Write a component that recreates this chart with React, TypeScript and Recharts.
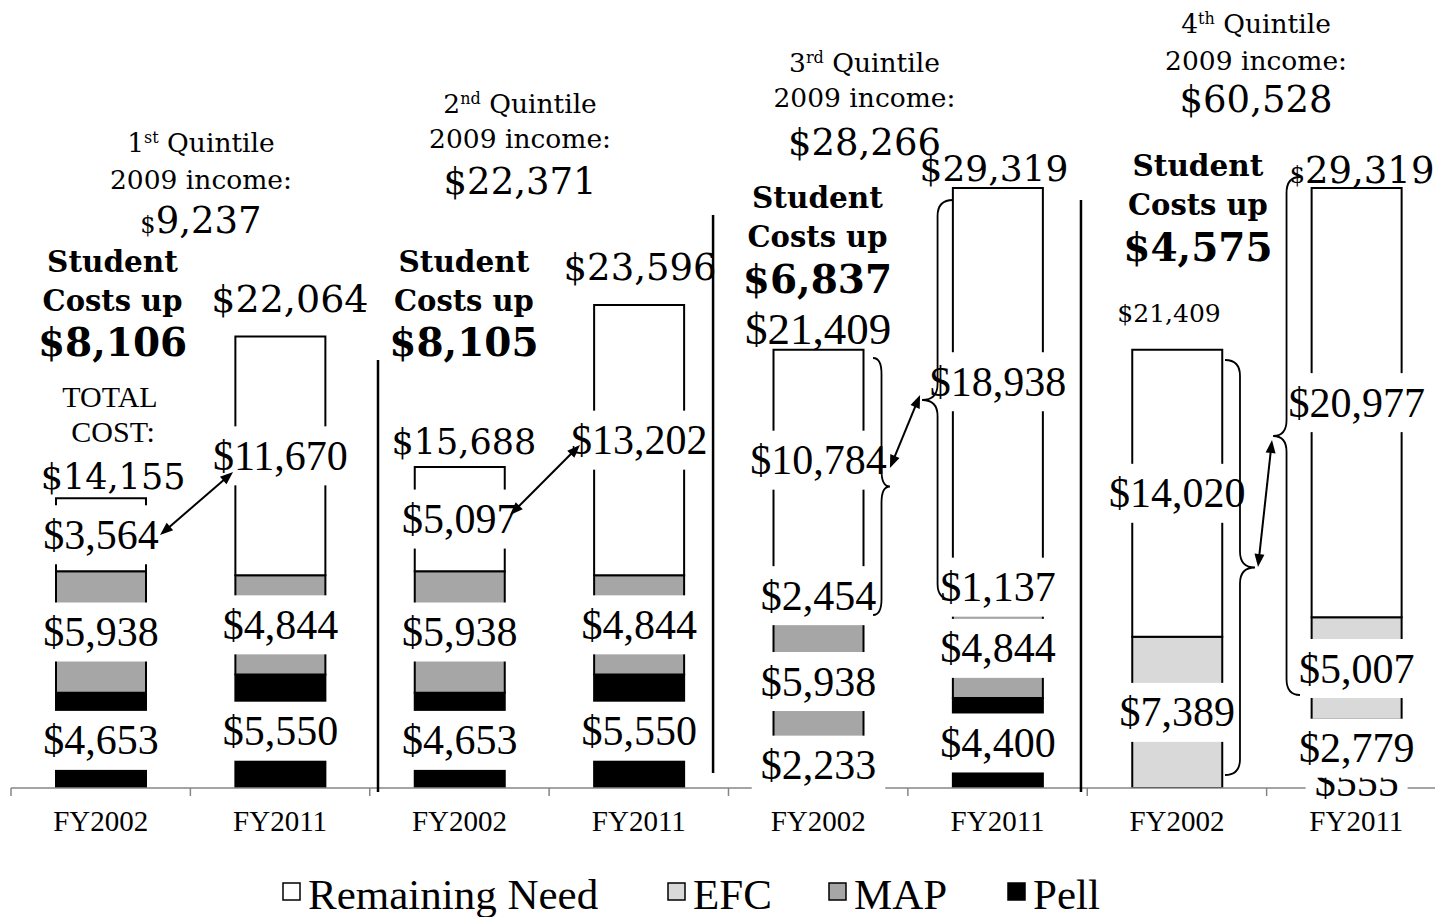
import React from 'react';
import { BarChart, Bar, XAxis, YAxis, LabelList, Legend, ReferenceDot, ReferenceLine } from 'recharts';

// ---------- data ----------
const CATEGORIES = ['FY2002', 'FY2011', 'FY2002', 'FY2011', 'FY2002', 'FY2011', 'FY2002', 'FY2011'];
const GROUP_KEYS = ['q1-2002', 'q1-2011', 'q2-2002', 'q2-2011', 'q3-2002', 'q3-2011', 'q4-2002', 'q4-2011'];
const PELL = [4653, 5550, 4653, 5550, 2233, 4400, 0, 555];
const MAP = [5938, 4844, 5938, 4844, 5938, 4844, 0, 2779];
const EFC = [0, 0, 0, 0, 2454, 1137, 7389, 5007];
const REMAINING = [3564, 11670, 5097, 13202, 10784, 18938, 14020, 20977];

const QUINTILE_ORD = ['1', '2', '3', '4'];
const QUINTILE_SUP = ['st', 'nd', 'rd', 'th'];
const QUINTILE_INCOME = ['9,237', '22,371', '28,266', '60,528'];
const COST_INCREASE = ['$8,106', '$8,105', '$6,837', '$4,575'];

const SERIES = [
  { key: 'pell', name: 'Pell', color: '#000000' },
  { key: 'map', name: 'MAP', color: '#a6a6a6' },
  { key: 'efc', name: 'EFC', color: '#d9d9d9' },
  { key: 'remaining', name: 'Remaining Need', color: '#ffffff' },
];

// pos = slot centre on the numeric helper axis used for annotations
const data = GROUP_KEYS.map((k, i) => ({
  key: k,
  pos: i + 0.5,
  pell: PELL[i],
  map: MAP[i],
  efc: EFC[i],
  remaining: REMAINING[i],
}));

// ---------- layout ----------
const CHART_W = 1450;
const CHART_H = 917;
const MARGIN = { top: 174, right: 4, bottom: 0, left: 11 };
const X_AXIS_H = 129;
const BAND = (CHART_W - MARGIN.left - MARGIN.right) / CATEGORIES.length;
const Y_MAX = 30000;
const AXIS_COLOR = '#868686';

const SERIF = "'Liberation Serif', 'Times New Roman', serif";
const SCHOOL = "'DejaVu Serif', serif";

// annotation anchors (x in slot units on a numeric helper axis, y in dollars)
const TITLE_POS = [
  { x: 1.059, ys: [31564, 29756, 27801] },
  { x: 2.838, ys: [33469, 31759, 29707] },
  { x: 4.758, ys: [35472, 33762, 31612] },
  { x: 6.941, ys: [37378, 35570, 33713] },
];
const COSTUP_POS = [
  { x: 0.566, ys: [25749, 23844, 21792] },
  { x: 2.525, ys: [25749, 23844, 21792] },
  { x: 4.496, ys: [28876, 26971, 24870] },
  { x: 6.617, ys: [30440, 28534, 26433] },
];

type Part = { t: string; s: number; dy?: number };
type Note = { x: number; y: number; parts: Part[]; font: 'tr' | 'dv'; bold?: boolean };

const OTHER_NOTES: Note[] = [
  { x: 1.555, y: 23941, parts: [{ t: '$22,064', s: 38 }], font: 'dv' },
  { x: 0.552, y: 19104, parts: [{ t: 'TOTAL', s: 30 }], font: 'tr' },
  { x: 0.569, y: 17394, parts: [{ t: 'COST:', s: 30 }], font: 'tr' },
  { x: 0.569, y: 15244, parts: [{ t: '$14,155', s: 35 }], font: 'dv' },
  { x: 2.525, y: 16954, parts: [{ t: '$15,688', s: 35 }], font: 'dv' },
  { x: 3.507, y: 25505, parts: [{ t: '$23,596', s: 37 }], font: 'dv' },
  { x: 4.499, y: 22427, parts: [{ t: '$21,409', s: 45 }], font: 'tr' },
  { x: 5.48, y: 30293, parts: [{ t: '$29,319', s: 36 }], font: 'dv' },
  { x: 6.456, y: 23209, parts: [{ t: '$21,409', s: 25 }], font: 'dv' },
  { x: 7.532, y: 30244, parts: [{ t: '$', s: 24 }, { t: '29,319', s: 37 }], font: 'dv' },
];

const SEPARATORS = [
  { x: 2.046, y1: 20912, y2: -195 },
  { x: 3.914, y1: 27997, y2: 733 },
  { x: 5.965, y1: 28730, y2: -195 },
];

const ARROWS = [
  { x1: 0.831, y1: 12362, x2: 1.238, y2: 15440 },
  { x1: 2.782, y1: 13339, x2: 3.172, y2: 16759 },
  { x1: 4.9, y1: 15635, x2: 5.068, y2: 19202 },
  { x1: 6.952, y1: 10798, x2: 7.03, y2: 17003 },
];

const BRACES = [
  { xEnd: 4.806, xTip: 4.9, yTop: 21010, yBot: 8453 },
  { xEnd: 5.252, xTip: 5.079, yTop: 28730, yBot: 9186 },
  { xEnd: 6.768, xTip: 6.935, yTop: 20912, yBot: 635 },
  { xEnd: 7.186, xTip: 7.036, yTop: 29853, yBot: 4544 },
];

const buildNotes = (): Note[] => {
  const notes: Note[] = [];
  TITLE_POS.forEach((p, i) => {
    notes.push({
      x: p.x,
      y: p.ys[0],
      font: 'dv',
      parts: [
        { t: QUINTILE_ORD[i], s: 26.5 },
        { t: QUINTILE_SUP[i], s: 16, dy: -9 },
        { t: ' Quintile', s: 26.5, dy: 9 },
      ],
    });
    notes.push({ x: p.x, y: p.ys[1], font: 'dv', parts: [{ t: '2009 income:', s: 26.5 }] });
    notes.push({
      x: p.x,
      y: p.ys[2],
      font: 'dv',
      parts: i === 0 ? [{ t: '$', s: 24 }, { t: QUINTILE_INCOME[i], s: 37 }] : [{ t: '$' + QUINTILE_INCOME[i], s: 37 }],
    });
  });
  COSTUP_POS.forEach((p, i) => {
    notes.push({ x: p.x, y: p.ys[0], font: 'dv', bold: true, parts: [{ t: 'Student', s: 29.5 }] });
    notes.push({ x: p.x, y: p.ys[1], font: 'dv', bold: true, parts: [{ t: 'Costs up', s: 29 }] });
    notes.push({ x: p.x, y: p.ys[2], font: 'dv', bold: true, parts: [{ t: COST_INCREASE[i], s: 39 }] });
  });
  return notes.concat(OTHER_NOTES);
};
const NOTES = buildNotes();

// ---------- renderers ----------
const fmt = (v: number) => '$' + String(v).replace(/\B(?=(\d{3})+(?!\d))/g, ',');
const textW = (s: string, size: number) =>
  s.split('').reduce((a, c) => a + (c === ',' ? 0.25 : 0.5), 0) * size;

const ValueLabel = (props: any) => {
  const v = Number(props.value);
  if (!v) return null;
  const vb = props.viewBox && props.viewBox.width !== undefined ? props.viewBox : props;
  const x = Number(vb.x);
  const y = Number(vb.y);
  const w = Number(vb.width);
  const h = Number(vb.height);
  const cx = x + w / 2;
  const cy = y + h / 2;
  const text = fmt(v);
  const tw = textW(text, 42);
  return (
    <g>
      <rect x={cx - tw / 2 - 9} y={cy - 29.5} width={tw + 18} height={59} fill="#ffffff" />
      <text x={cx} y={cy + 14} textAnchor="middle" fontFamily={SERIF} fontSize={42} fill="#000">
        {text}
      </text>
    </g>
  );
};

const NoteText = ({ cx, cy, note }: { cx: number; cy: number; note: Note }) => {
  const main = Math.max(...note.parts.map((p) => p.s));
  const ratio = note.font === 'tr' ? 0.33 : 0.365;
  return (
    <text
      x={cx}
      y={cy + ratio * main}
      textAnchor="middle"
      fontFamily={note.font === 'tr' ? SERIF : SCHOOL}
      fontWeight={note.bold ? 700 : 400}
      fill="#000"
      style={{ whiteSpace: 'pre' }}
    >
      {note.parts.map((p, i) => (
        <tspan key={i} fontSize={p.s} dy={p.dy}>
          {p.t}
        </tspan>
      ))}
    </text>
  );
};

const ArrowShape = (props: any) => {
  const { x1, y1, x2, y2 } = props;
  const dx = x2 - x1;
  const dy = y2 - y1;
  const len = Math.hypot(dx, dy) || 1;
  const ux = dx / len;
  const uy = dy / len;
  const L = 13;
  const W = 5;
  const head = (px: number, py: number, ax: number, ay: number) =>
    `M${px},${py} L${px - ax * L - ay * W},${py - ay * L + ax * W} L${px - ax * L + ay * W},${py - ay * L - ax * W} Z`;
  return (
    <g>
      <line x1={x1 + ux * 10} y1={y1 + uy * 10} x2={x2 - ux * 10} y2={y2 - uy * 10} stroke="#000" strokeWidth={2} />
      <path d={head(x2, y2, ux, uy)} fill="#000" />
      <path d={head(x1, y1, -ux, -uy)} fill="#000" />
    </g>
  );
};

const BraceShape = (props: any) => {
  const { x1, y1, x2, y2 } = props;
  const e = x1;
  const t = x2;
  const s = (x1 + x2) / 2;
  const top = Math.min(y1, y2);
  const bot = Math.max(y1, y2);
  const mid = (top + bot) / 2;
  const r = 16;
  const d = `M${e},${top} Q${s},${top} ${s},${top + r} L${s},${mid - r} Q${s},${mid} ${t},${mid} Q${s},${mid} ${s},${mid + r} L${s},${bot - r} Q${s},${bot} ${e},${bot}`;
  return <path d={d} fill="none" stroke="#000" strokeWidth={1.8} />;
};

const AxisTick = (props: any) => {
  const { x, y, index } = props;
  const half = BAND / 2;
  const last = index === CATEGORIES.length - 1;
  return (
    <g>
      <line x1={x - half} y1={y} x2={x - half} y2={y + 8} stroke={AXIS_COLOR} strokeWidth={1.5} />
      {last && <line x1={x + half} y1={y} x2={x + half} y2={y + 8} stroke={AXIS_COLOR} strokeWidth={1.5} />}
      <text x={x} y={y + 43} textAnchor="middle" fontFamily={SERIF} fontSize={29} fill="#000">
        {CATEGORIES[index]}
      </text>
    </g>
  );
};

const LEGEND_ORDER = ['Remaining Need', 'EFC', 'MAP', 'Pell'];
const LEGEND_LEFT = [283, 668, 829, 1008];

const LegendContent = (props: any) => {
  const payload: any[] = props.payload || [];
  return (
    <svg width={1435} height={57} style={{ display: 'block' }}>
      {LEGEND_ORDER.map((name, i) => {
        const item = payload.find((p) => p.value === name);
        const color = (SERIES.find((s) => s.name === name) || { color: item?.color }).color;
        return (
          <g key={name}>
            <rect x={LEGEND_LEFT[i]} y={23} width={17} height={17} fill={color} stroke="#000" strokeWidth={1.5} />
            <text x={LEGEND_LEFT[i] + 25} y={49} fontFamily={SERIF} fontSize={43} fill="#000">
              {item ? item.value : name}
            </text>
          </g>
        );
      })}
    </svg>
  );
};

export default function App() {
  return (
    <div style={{ position: 'absolute', left: 0, top: 0, width: 1435, height: 917, overflow: 'hidden', background: '#fff' }}>
      <BarChart width={CHART_W} height={CHART_H} data={data} margin={MARGIN}>
        <XAxis
          dataKey="key"
          height={X_AXIS_H}
          interval={0}
          tickLine={false}
          tickSize={0}
          tickMargin={0}
          axisLine={{ stroke: AXIS_COLOR, strokeWidth: 1.5 }}
          tick={<AxisTick />}
        />
        <XAxis xAxisId="n" dataKey="pos" type="number" domain={[0, CATEGORIES.length]} hide allowDataOverflow />
        <YAxis hide width={0} domain={[0, Y_MAX]} allowDataOverflow />
        <Legend
          layout="horizontal"
          verticalAlign="middle"
          align="center"
          content={<LegendContent />}
          wrapperStyle={{ top: 860, left: 0, width: 1435, height: 57 }}
        />
        {SERIES.map((s) => (
          <Bar
            key={s.key}
            dataKey={s.key}
            name={s.name}
            stackId="cost"
            fill={s.color}
            stroke="#000"
            strokeWidth={2}
            barSize={90}
            isAnimationActive={false}
          >
            <LabelList dataKey={s.key} content={ValueLabel} />
          </Bar>
        ))}
        {SEPARATORS.map((l, i) => (
          <ReferenceLine
            key={`sep${i}`}
            xAxisId="n"
            segment={[{ x: l.x, y: l.y1 }, { x: l.x, y: l.y2 }]}
            stroke="#000"
            strokeWidth={2.5}
            ifOverflow="visible"
            zIndex={3000}
          />
        ))}
        {BRACES.map((b, i) => (
          <ReferenceLine
            key={`br${i}`}
            xAxisId="n"
            segment={[{ x: b.xEnd, y: b.yTop }, { x: b.xTip, y: b.yBot }]}
            ifOverflow="visible"
            zIndex={3000}
            shape={BraceShape}
          />
        ))}
        {ARROWS.map((a, i) => (
          <ReferenceLine
            key={`ar${i}`}
            xAxisId="n"
            segment={[{ x: a.x1, y: a.y1 }, { x: a.x2, y: a.y2 }]}
            ifOverflow="visible"
            zIndex={3000}
            shape={ArrowShape}
          />
        ))}
        {NOTES.map((n, i) => (
          <ReferenceDot
            key={`note${i}`}
            xAxisId="n"
            x={n.x}
            y={n.y}
            r={0}
            ifOverflow="visible"
            zIndex={3000}
            shape={(p: any) => <NoteText cx={p.cx} cy={p.cy} note={n} />}
          />
        ))}
      </BarChart>
    </div>
  );
}
